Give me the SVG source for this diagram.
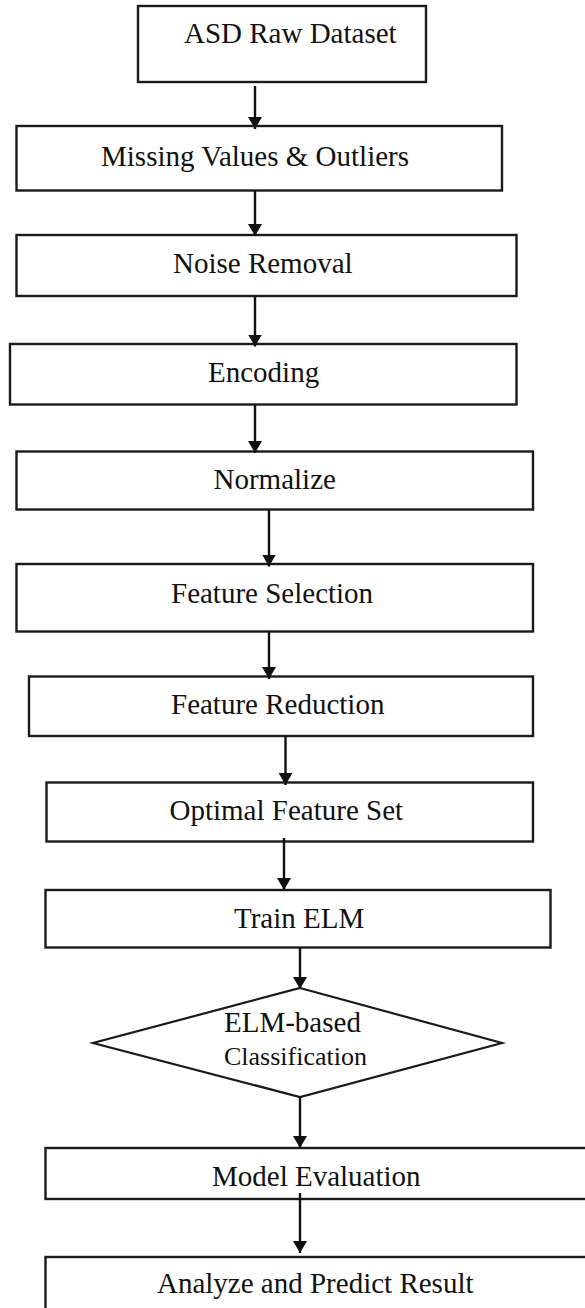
<svg xmlns="http://www.w3.org/2000/svg" width="585" height="1308" viewBox="0 0 585 1308">
<defs>
<marker id="ah" viewBox="0 0 12 14" refX="12" refY="7" markerWidth="12" markerHeight="14" markerUnits="userSpaceOnUse" orient="auto">
<path d="M0,0 L12,7 L0,14 z" fill="#111"/>
</marker>
<style>
.box{fill:#fff;stroke:#1a1a1a;stroke-width:2.4}
.dia{fill:#fff;stroke:#1a1a1a;stroke-width:2.2}
.lbl{font-family:"Liberation Serif","Times New Roman",serif;font-size:29px;fill:#111}
.sm{font-size:26px}
.cn{stroke:#111;stroke-width:2.4;fill:none;marker-end:url(#ah)}
</style>
</defs>
<rect width="585" height="1308" fill="#fff"/>
<g id="n1"><rect class="box" x="138" y="6" width="288" height="76"/><text class="lbl" x="184" y="43">ASD Raw Dataset</text></g>
<g id="n2"><rect class="box" x="16.5" y="126" width="485.5" height="64.5"/><text class="lbl" x="101" y="166">Missing Values &amp; Outliers</text></g>
<g id="n3"><rect class="box" x="16.5" y="235" width="500" height="61"/><text class="lbl" x="173" y="272.5">Noise Removal</text></g>
<g id="n4"><rect class="box" x="10" y="344" width="506.5" height="60.5"/><text class="lbl" x="208" y="381.5">Encoding</text></g>
<g id="n5"><rect class="box" x="16.5" y="451.5" width="516.5" height="58"/><text class="lbl" x="213.5" y="489">Normalize</text></g>
<g id="n6"><rect class="box" x="16.5" y="564" width="516.5" height="67.5"/><text class="lbl" x="171" y="602.5">Feature Selection</text></g>
<g id="n7"><rect class="box" x="29" y="676.5" width="504" height="59.5"/><text class="lbl" x="171" y="714">Feature Reduction</text></g>
<g id="n8"><rect class="box" x="46.5" y="782.5" width="486.5" height="59"/><text class="lbl" x="169.5" y="820">Optimal Feature Set</text></g>
<g id="n9"><rect class="box" x="45.5" y="890" width="505" height="57.5"/><text class="lbl" x="234" y="928">Train ELM</text></g>
<g id="n10"><polygon class="dia" points="300,988 502,1043 300,1097 93,1043"/><text class="lbl" x="224" y="1031.5" font-size="28">ELM-based</text><text class="lbl sm" x="224" y="1065">Classification</text></g>
<g id="n11"><rect class="box" x="45.5" y="1148" width="560" height="51"/><text class="lbl" x="212" y="1186">Model Evaluation</text></g>
<g id="n12"><rect class="box" x="45.5" y="1257" width="560" height="70"/><text class="lbl" x="157" y="1293">Analyze and Predict Result</text></g>
<g id="connectors">
<line class="cn" x1="255" y1="86" x2="255" y2="129"/>
<line class="cn" x1="255" y1="190.5" x2="255" y2="236"/>
<line class="cn" x1="255" y1="296" x2="255" y2="346.5"/>
<line class="cn" x1="255" y1="404.5" x2="255" y2="453"/>
<line class="cn" x1="269" y1="509.5" x2="269" y2="566.5"/>
<line class="cn" x1="269" y1="631.5" x2="269" y2="679"/>
<line class="cn" x1="285.5" y1="736" x2="285.5" y2="785"/>
<line class="cn" x1="284" y1="838" x2="284" y2="890"/>
<line class="cn" x1="300" y1="947.5" x2="300" y2="989"/>
<line class="cn" x1="300" y1="1097" x2="300" y2="1148"/>
<line class="cn" x1="300" y1="1193" x2="300" y2="1253"/>
</g>
</svg>
